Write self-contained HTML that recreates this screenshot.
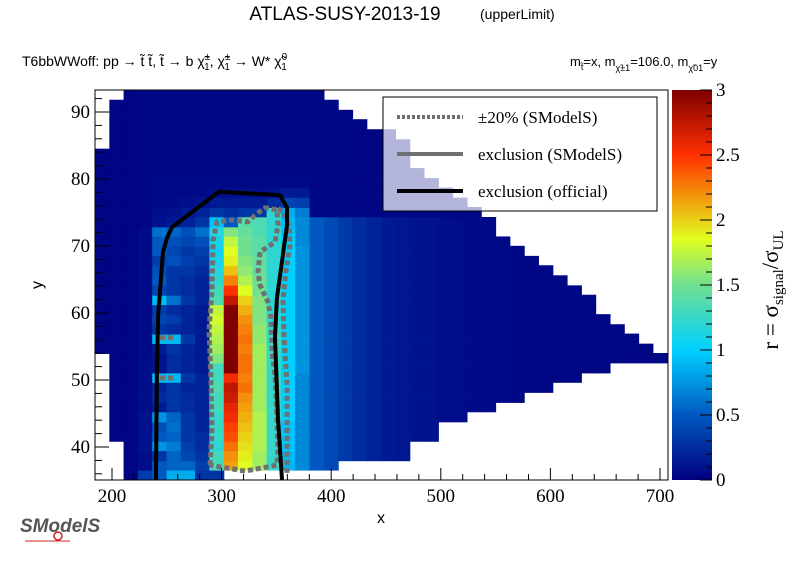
<!DOCTYPE html>
<html><head><meta charset="utf-8">
<style>
html,body{margin:0;padding:0;background:#fff;}
svg{display:block;}
.sans{font-family:"Liberation Sans",sans-serif;}
.serif{font-family:"Liberation Serif",serif;}
</style></head>
<body>
<svg id="chart" width="796" height="572" viewBox="0 0 796 572" xmlns="http://www.w3.org/2000/svg">
<defs>
<clipPath id="plotclip"><rect x="95" y="90" width="573" height="390"/></clipPath>
<linearGradient id="pal" x1="0" y1="1" x2="0" y2="0">
<stop offset="0" stop-color="#000080"/><stop offset="0.1667" stop-color="#0058c0"/>
<stop offset="0.3333" stop-color="#00d0ff"/><stop offset="0.5" stop-color="#70e090"/>
<stop offset="0.6167" stop-color="#e0ff20"/><stop offset="0.7" stop-color="#f0b010"/>
<stop offset="0.8333" stop-color="#ff3000"/><stop offset="1" stop-color="#800000"/>
</linearGradient>
</defs>
<text class="sans" x="345" y="20" font-size="19" text-anchor="middle">ATLAS-SUSY-2013-19</text>
<text class="sans" x="480" y="19" font-size="14">(upperLimit)</text>
<text class="sans" x="22" y="66" font-size="14">T6bbWWoff: pp  → t̃ t̃, t̃  → b χ̃<tspan font-size="10" dy="-6">±</tspan><tspan font-size="10" dx="-6" dy="10">1</tspan><tspan dy="-4">, χ̃</tspan><tspan font-size="10" dy="-6">±</tspan><tspan font-size="10" dx="-6" dy="10">1</tspan><tspan dy="-4"> → W* χ̃</tspan><tspan font-size="10" dy="-6">0</tspan><tspan font-size="10" dx="-6" dy="10">1</tspan></text>
<text class="sans" x="570" y="66" font-size="13">m<tspan font-size="9" dy="4">t̃</tspan><tspan dy="-4">=x, m</tspan><tspan font-size="9" dy="5">χ̃±1</tspan><tspan dy="-5">=106.0, m</tspan><tspan font-size="9" dy="5">χ̃01</tspan><tspan dy="-5">=y</tspan></text>
<g id="cells" clip-path="url(#plotclip)"></g>
<g id="contours" clip-path="url(#plotclip)"></g>
<rect x="95" y="90" width="573" height="390" fill="none" stroke="#000" stroke-width="1"/>
<g id="axes"></g>
<g>
<rect x="383" y="97" width="274" height="114" fill="rgba(255,255,255,0.7)" stroke="#000" stroke-width="1"/>
<line x1="397" y1="117" x2="463" y2="117" stroke="#707070" stroke-width="4" stroke-dasharray="3,2"/>
<text class="serif" x="478" y="123" font-size="17">±20% (SModelS)</text>
<line x1="397" y1="154" x2="463" y2="154" stroke="#707070" stroke-width="4"/>
<text class="serif" x="478" y="160" font-size="17">exclusion (SModelS)</text>
<line x1="397" y1="191" x2="463" y2="191" stroke="#000" stroke-width="4"/>
<text class="serif" x="478" y="197" font-size="17">exclusion (official)</text>
</g>
<rect x="672" y="90" width="40" height="390" fill="url(#pal)"/>
<g id="cbaxis"></g>
<text class="serif" transform="translate(778,290) rotate(-90)" font-size="23" text-anchor="middle">r = σ<tspan font-size="15" dy="5">signal</tspan><tspan dy="-5">/σ</tspan><tspan font-size="15" dy="5">UL</tspan></text>
<text class="sans" x="381" y="523" font-size="16" text-anchor="middle">x</text>
<text class="sans" transform="translate(42,285) rotate(-90)" font-size="16" text-anchor="middle">y</text>
<g>
<text class="sans" x="20" y="532" font-size="19" fill="#555" font-style="italic" font-weight="bold">SModelS</text>
<circle cx="58" cy="536" r="4" fill="none" stroke="#d02020" stroke-width="1.5"/>
<line x1="25" y1="541" x2="70" y2="541" stroke="#d02020" stroke-width="1"/>
</g>
</svg>
<script>
const NS='http://www.w3.org/2000/svg';
function X(v){return 112+(v-200)*1.096;}
function Y(v){return 447-(v-40)*6.7;}
const xCenters=[191.0,204.1,217.1,230.2,243.2,256.3,269.3,282.4,295.4,308.5,321.5,334.6,347.6,360.7,373.7,386.8,399.8,412.9,425.9,439.0,452.0,465.1,478.1,491.2,504.2,517.3,530.3,543.4,556.4,569.5,582.5,595.6,608.6,621.7,634.7,647.8,660.8,673.9,686.9,700.0];
const yCenters=[35.8,37.3,38.7,40.2,41.6,43.1,44.5,46.0,47.4,48.9,50.4,51.8,53.3,54.7,56.2,57.6,59.1,60.5,62.0,63.4,64.9,66.4,67.8,69.3,70.7,72.2,73.6,75.1,76.5,78.0,79.4,80.9,82.3,83.8,85.2,86.7,88.2,89.6,91.1,92.5];
const binW=13.05, binH=1.455;
const colYMin=[54,41,35.1,35.1,35.1,35.1,35.1,35.1,35.1,36.6,36.6,36.6,36.6,36.6,36.6,36.6,36.6,37.8,37.8,37.8,38,38,41,41,43.7,43.7,45.2,45.2,46.7,46.7,48.2,48.2,49.7,49.7,51.2,51.2,52.7,52.7,52.7,52.7];
const colYMax=[84.6,92,93.3,93.3,93.3,93.3,93.3,93.3,93.3,93.3,93.3,93.3,93.3,93.3,93.3,93.3,91.9,90.4,89.2,87.4,87.4,86,82,80.3,79.1,77.6,76.1,74.8,71.8,70.3,68.8,67.3,65.8,64.3,63.1,60.1,58.6,57.4,55.9,54.4];
const colBase=[0.03,0.03,0.03,0.06,0.1,0.1,0.1,0.1,0.1,0.1,0.1,0.1,0.1,0.1,0.1,0.5,0.42,0.33,0.25,0.2,0.15,0.13,0.11,0.1,0.08,0.07,0.06,0.05,0.05,0.04,0.04,0.04,0.04,0.04,0.04,0.04,0.04,0.04,0.04,0.04];
const rCol3=[0.35,0.08,0.08,0.1,0.1,0.1,0.1,0.08,0.08,0.08,0.08,0.08,0.06,0.06,0.06,0.06,0.06,0.06,0.06,0.06,0.06,0.06,0.06,0.06,0.06,0.06,0.04,0.04,0.04,0.04,0.04];
const rCol4=[0.5,0.5,0.3,0.75,0.5,0.45,0.75,0.15,0.25,0.2,0.9,0.1,0.1,0.15,0.9,0.3,0.4,0.35,0.9,0.4,0.5,0.45,0.35,0.5,0.5,0.6,0.1,0.08,0.06,0.05,0.05];
const rCol5=[0.85,0.55,0.55,0.65,0.55,0.6,0.55,0.3,0.3,0.3,0.9,0.25,0.25,0.3,0.9,0.25,0.35,0.25,0.6,0.3,0.3,0.3,0.45,0.4,0.45,0.55,0.15,0.1,0.06,0.05,0.05];
const rCol6=[0.85,0.55,0.4,0.35,0.3,0.3,0.3,0.25,0.25,0.2,0.3,0.2,0.2,0.2,0.3,0.2,0.2,0.2,0.3,0.25,0.25,0.3,0.35,0.3,0.4,0.45,0.2,0.15,0.08,0.05,0.05];
const rCol7=[0.3,0.35,0.3,0.25,0.25,0.2,0.2,0.2,0.2,0.2,0.2,0.15,0.15,0.15,0.15,0.15,0.15,0.15,0.2,0.2,0.2,0.25,0.3,0.35,0.45,0.6,0.3,0.2,0.1,0.05,0.05];
const rCol8=[0.3,1.3,1.3,1.2,1.25,1.25,1.25,1.3,1.3,1.35,1.3,1.3,1.55,1.65,1.7,1.75,1.8,1.75,1.35,1.3,1.2,1.15,1.1,1.05,1.1,1.15,0.95,0.3,0.15,0.08,0.05];
const rCol9=[2,2.15,2.2,2.3,2.4,2.45,2.55,2.6,2.7,2.75,2.55,3,3,3,3,3,3,3,2.75,2.5,2.25,2.05,1.9,1.85,1.75,1.55,0.5,0.25,0.15,0.08,0.05];
const rCol10=[1.8,1.85,1.9,1.95,2,2.05,2.1,2.15,2.2,2.3,2.25,2.3,2.3,2.25,2.3,2.25,2.2,2.1,2,1.85,1.7,1.6,1.55,1.5,1.5,1.45,1.4,0.3,0.15,0.08,0.05];
const rCol11=[1.6,1.65,1.65,1.7,1.7,1.7,1.7,1.65,1.65,1.65,1.65,1.65,1.65,1.65,1.6,1.6,1.55,1.55,1.55,1.5,1.5,1.45,1.45,1.4,1.4,1.35,1.35,0.3,0.15,0.08,0.05];
const rCol12=[1.2,1.25,1.25,1.25,1.25,1.25,1.25,1.25,1.25,1.25,1.25,1.25,1.25,1.25,1.25,1.25,1.2,1.2,1.2,1.2,1.2,1.2,1.2,1.2,1.2,1.2,1.2,1.2,0.25,0.1,0.05];
const rCol13=[1,0.9,0.9,0.95,0.95,0.95,1,1,1,1,1,1,1,1,1,1,1,1,1,1,1,1,1,1,1,0.95,0.9,0.85,0.4,0.15,0.05];
const rCol14=[0.75,0.7,0.7,0.7,0.7,0.7,0.7,0.7,0.7,0.7,0.7,0.75,0.75,0.75,0.75,0.75,0.75,0.75,0.75,0.75,0.75,0.75,0.75,0.75,0.7,0.7,0.7,0.65,0.35,0.15,0.05];
const profiles={3:rCol3,4:rCol4,5:rCol5,6:rCol6,7:rCol7,8:rCol8,9:rCol9,10:rCol10,11:rCol11,12:rCol12,13:rCol13,14:rCol14};
const officialX=[240.1,241,242,246.5,250.2,254.7,297.6,353.3,359.7,359.7,350.5,348.7,351.5,355.1];
const officialY=[35.1,50.7,59.3,69.1,71.2,72.8,78.1,77.6,75.7,73.1,62.2,56.3,44.3,35.1];
const innerX=[289.4,291.2,290.3,288.5,291.2,292.2,295.8,309.5,324.1,330.5,339.6,350.5,351.5,348.7,335,333.2,335,342.3,345.1,346,348.7,350.5,351.5,350.5,321.4,289.4];
const innerY=[37.3,42.5,50,57.5,63.4,70.9,73.6,73.9,73.6,74.6,75.7,75.4,73.1,70.6,69.1,66.1,64.2,61.6,59.3,54.2,50.7,44.3,39.3,37.3,36.4,37.3];
const outerX=[351.5,356,361.5,362.4,358.8,356,356.9,359.7,359.7,359.7];
const outerY=[75.6,75.1,73.1,70.1,66.4,61.9,56.7,49.3,38.8,36.0];
const xTicks=[200,300,400,500,600,700];
const yTicks=[40,50,60,70,80,90];
const cbTicks=[0,0.5,1,1.5,2,2.5,3];

const stops=[[0,[0,0,128]],[0.5,[0,88,192]],[1,[0,208,255]],[1.5,[112,224,144]],[1.85,[224,255,32]],[2.1,[240,176,16]],[2.5,[255,48,0]],[3,[128,0,0]]];
function color(v){v=Math.max(0,Math.min(3,v));
 for(let i=1;i<stops.length;i++){if(v<=stops[i][0]){const a=stops[i-1],b=stops[i];const t=(v-a[0])/(b[0]-a[0]);
  const c=a[1].map((q,k)=>Math.round(q+(b[1][k]-q)*t));return 'rgb('+c.join(',')+')';}}
 return 'rgb(128,0,0)';}

const cells=document.getElementById('cells');
for(let c=0;c<xCenters.length;c++){
 for(let r=0;r<yCenters.length;r++){
  const yc=yCenters[r];
  if(yc<colYMin[c]||yc>colYMax[c]) continue;
  let v;
  if(profiles[c]&&r<profiles[c].length) v=profiles[c][r];
  else if(c>=15&&(r<1||r>26)) v=0.04;
  else if(c>=15) v=colBase[c];
  else v=(c<3)?colBase[c]:0.04;
  const rect=document.createElementNS(NS,'rect');
  const x0=X(xCenters[c]-binW/2), x1=X(xCenters[c]+binW/2);
  const y0=Y(yc+binH/2), y1=Y(yc-binH/2);
  rect.setAttribute('x',x0.toFixed(2));rect.setAttribute('y',y0.toFixed(2));
  rect.setAttribute('width',(x1-x0+0.6).toFixed(2));rect.setAttribute('height',(y1-y0+0.6).toFixed(2));
  rect.setAttribute('fill',color(v));
  
  
  cells.appendChild(rect);
 }
}
const cont=document.getElementById('contours');
function poly(xs,ys,stroke,dash,name,w){
 const p=document.createElementNS(NS,'polyline');
 p.setAttribute('points',xs.map((x,i)=>X(x).toFixed(1)+','+Y(ys[i]).toFixed(1)).join(' '));
 p.setAttribute('fill','none');p.setAttribute('stroke',stroke);p.setAttribute('stroke-width',w);
 p.setAttribute('stroke-linejoin','round');
 if(dash)p.setAttribute('stroke-dasharray',dash);
 
 
 cont.appendChild(p);
}
poly(innerX,innerY,'#707070','5,3','contour-20pct-inner','5');
poly(outerX,outerY,'#707070','5,3','contour-20pct-outer','5');
poly([243.8,257.5],[56.3,56.3],'#707070','5,3','contour-20pct-spot-a','5');
poly([243.8,257.5],[50.3,50.3],'#707070','5,3','contour-20pct-spot-b','5');
poly(officialX,officialY,'#000','','contour-official','4');

const axes=document.getElementById('axes');
function line(g,x1,y1,x2,y2,name){const l=document.createElementNS(NS,'line');
 l.setAttribute('x1',x1);l.setAttribute('y1',y1);l.setAttribute('x2',x2);l.setAttribute('y2',y2);
 l.setAttribute('stroke','#000');l.setAttribute('stroke-width','1');
 
 
 g.appendChild(l);}
function text(g,x,y,s,anchor,name){const t=document.createElementNS(NS,'text');
 t.setAttribute('x',x);t.setAttribute('y',y);t.setAttribute('text-anchor',anchor);
 t.setAttribute('font-size','19');t.setAttribute('class','serif');t.textContent=s;
 
 
 g.appendChild(t);}
for(let v=200;v<=700;v+=20){const px=X(v);if(px<95||px>668)continue;
 line(axes,px,480,px,480-(v%100===0?12:6),'x-tick');}
for(let v=36;v<=92;v+=2){const py=Y(v);if(py<90||py>480)continue;
 line(axes,95,py,95+(v%10===0?14:7),py,'y-tick');}
xTicks.forEach(v=>text(axes,X(v),502,String(v),'middle','x-tick-label'));
yTicks.forEach(v=>text(axes,90,Y(v)+6,String(v),'end','y-tick-label'));
const cb=document.getElementById('cbaxis');
function CY(v){return 480-v*130;}
for(let v=0;v<=3.0001;v+=0.1){const t=Math.round(v*10);line(cb,712-(t%5===0?12:6),CY(v),712,CY(v),'color-bar-tick');}
cbTicks.forEach(v=>text(cb,716,CY(v)+6,String(v),'start','color-bar-tick-label'));
</script>
</body></html>
